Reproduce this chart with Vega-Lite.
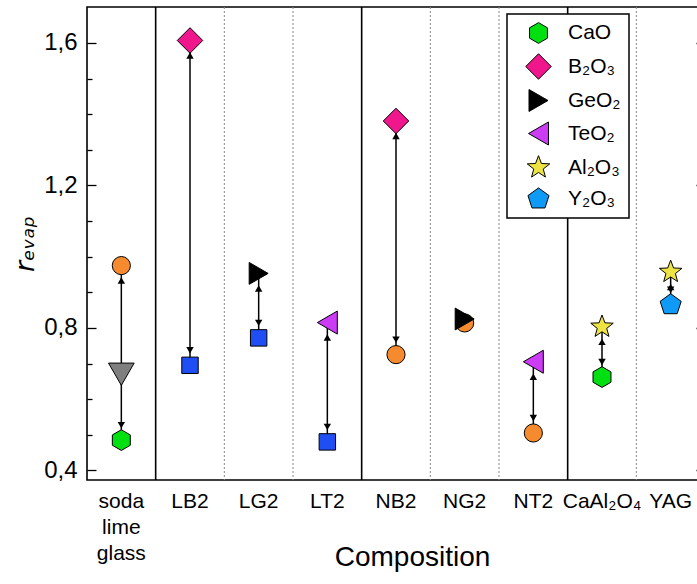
{
  "$schema": "https://vega.github.io/schema/vega-lite/v6.json",
  "width": 618,
  "height": 473,
  "autosize": {"type": "none"},
  "padding": {"left": 87, "top": 7, "right": 0, "bottom": 104},
  "background": "white",
  "config": {
    "view": {"stroke": "black", "strokeWidth": 1.6},
    "font": "Liberation Sans",
    "axis": {"labelColor": "black", "titleColor": "black", "labelFont": "Liberation Sans", "titleFont": "Liberation Sans", "tickColor": "black", "grid": false, "domain": false},
    "legend": {"title": null, "orient": "none", "legendX": 420, "legendY": 7, "labelFontSize": 21, "labelFont": "Liberation Sans", "labelColor": "black", "fillColor": "white", "strokeColor": "black", "padding": 8, "rowPadding": 5, "labelOffset": 16, "symbolOffset": 10, "symbolStrokeColor": "black", "symbolStrokeWidth": 1, "symbolOpacity": 1}
  },
  "datasets": {
    "points": [
      {"comp": "soda lime glass", "species": "orange", "value": 0.975},
      {"comp": "soda lime glass", "species": "grey", "value": 0.67},
      {"comp": "soda lime glass", "species": "CaO", "value": 0.485},
      {"comp": "LB2", "species": "B₂O₃", "value": 1.607},
      {"comp": "LB2", "species": "blue", "value": 0.695},
      {"comp": "LG2", "species": "GeO₂", "value": 0.953},
      {"comp": "LG2", "species": "blue", "value": 0.772},
      {"comp": "LT2", "species": "TeO₂", "value": 0.815},
      {"comp": "LT2", "species": "blue", "value": 0.48},
      {"comp": "NB2", "species": "B₂O₃", "value": 1.381},
      {"comp": "NB2", "species": "orange", "value": 0.725},
      {"comp": "NG2", "species": "orange", "value": 0.814},
      {"comp": "NG2", "species": "GeO₂", "value": 0.825},
      {"comp": "NT2", "species": "TeO₂", "value": 0.705},
      {"comp": "NT2", "species": "orange", "value": 0.505},
      {"comp": "CaAl₂O₄", "species": "Al₂O₃", "value": 0.803},
      {"comp": "CaAl₂O₄", "species": "CaO", "value": 0.662},
      {"comp": "YAG", "species": "Al₂O₃", "value": 0.957},
      {"comp": "YAG", "species": "Y₂O₃", "value": 0.865}
    ],
    "arrows": [
      {"comp": "soda lime glass", "top": 0.975, "bottom": 0.485},
      {"comp": "LB2", "top": 1.607, "bottom": 0.695},
      {"comp": "LG2", "top": 0.953, "bottom": 0.772},
      {"comp": "LT2", "top": 0.815, "bottom": 0.48},
      {"comp": "NB2", "top": 1.381, "bottom": 0.725},
      {"comp": "NT2", "top": 0.705, "bottom": 0.505},
      {"comp": "CaAl₂O₄", "top": 0.803, "bottom": 0.662},
      {"comp": "YAG", "top": 0.957, "bottom": 0.865}
    ],
    "separators": [
      {"comp": "LB2", "kind": "group"},
      {"comp": "LG2", "kind": "sample"},
      {"comp": "LT2", "kind": "sample"},
      {"comp": "NB2", "kind": "group"},
      {"comp": "NG2", "kind": "sample"},
      {"comp": "NT2", "kind": "sample"},
      {"comp": "CaAl₂O₄", "kind": "group"},
      {"comp": "YAG", "kind": "sample"}
    ]
  },
  "resolve": {"axis": {"y": "independent", "x": "independent"}},
  "layer": [
    {
      "data": {"name": "separators"},
      "transform": [{"filter": "datum.kind == 'sample'"}],
      "mark": {"type": "rule", "color": "#8a8a8a", "strokeWidth": 1, "strokeDash": [2, 2]},
      "encoding": {
        "x": {"field": "comp", "type": "nominal", "bandPosition": 0, "scale": {"domain": ["soda lime glass", "LB2", "LG2", "LT2", "NB2", "NG2", "NT2", "CaAl₂O₄", "YAG"], "paddingInner": 0, "paddingOuter": 0}, "axis": null}
      }
    },
    {
      "data": {"name": "separators"},
      "transform": [{"filter": "datum.kind == 'group'"}],
      "mark": {"type": "rule", "color": "black", "strokeWidth": 1.6},
      "encoding": {
        "x": {"field": "comp", "type": "nominal", "bandPosition": 0, "scale": {"domain": ["soda lime glass", "LB2", "LG2", "LT2", "NB2", "NG2", "NT2", "CaAl₂O₄", "YAG"], "paddingInner": 0, "paddingOuter": 0}, "axis": null}
      }
    },
    {
      "data": {"name": "arrows"},
      "mark": {"type": "rule", "color": "black", "strokeWidth": 1.5},
      "encoding": {
        "x": {"field": "comp", "type": "nominal", "scale": {"domain": ["soda lime glass", "LB2", "LG2", "LT2", "NB2", "NG2", "NT2", "CaAl₂O₄", "YAG"], "paddingInner": 0, "paddingOuter": 0}, "axis": null},
        "y": {"field": "top", "type": "quantitative", "scale": {"domain": [0.373, 1.701], "nice": false, "zero": false},
          "axis": {"orient": "left", "values": [0.5, 0.6, 0.7, 0.9, 1.0, 1.1, 1.3, 1.4, 1.5], "tickSize": -5, "tickWidth": 1.3, "labels": false, "title": null, "domain": false}},
        "y2": {"field": "bottom"}
      }
    },
    {
      "data": {"name": "arrows"},
      "mark": {"type": "point", "shape": "triangle-up", "filled": true, "color": "black", "opacity": 1, "size": 55, "yOffset": 15},
      "encoding": {
        "x": {"field": "comp", "type": "nominal", "scale": {"domain": ["soda lime glass", "LB2", "LG2", "LT2", "NB2", "NG2", "NT2", "CaAl₂O₄", "YAG"], "paddingInner": 0, "paddingOuter": 0}, "axis": null},
        "y": {"field": "top", "type": "quantitative", "scale": {"domain": [0.373, 1.701], "nice": false, "zero": false},
          "axis": {"orient": "right", "values": [0.4, 0.8, 1.2, 1.6], "tickSize": -9, "tickWidth": 1.3, "labels": false, "title": null, "domain": false}}
      }
    },
    {
      "data": {"name": "arrows"},
      "mark": {"type": "point", "shape": "triangle-down", "filled": true, "color": "black", "opacity": 1, "size": 55, "yOffset": -15},
      "encoding": {
        "x": {"field": "comp", "type": "nominal", "scale": {"domain": ["soda lime glass", "LB2", "LG2", "LT2", "NB2", "NG2", "NT2", "CaAl₂O₄", "YAG"], "paddingInner": 0, "paddingOuter": 0}, "axis": null},
        "y": {"field": "bottom", "type": "quantitative", "scale": {"domain": [0.373, 1.701], "nice": false, "zero": false}, "axis": null}
      }
    },
    {
      "data": {"name": "points"},
      "mark": {"type": "point", "filled": true, "opacity": 1, "stroke": "black", "strokeWidth": 1},
      "encoding": {
        "x": {"field": "comp", "type": "nominal", "scale": {"domain": ["soda lime glass", "LB2", "LG2", "LT2", "NB2", "NG2", "NT2", "CaAl₂O₄", "YAG"], "paddingInner": 0, "paddingOuter": 0},
          "axis": {"title": "Composition", "titleFontSize": 28, "titleFontWeight": "normal", "titleY": 63, "titleX": 325, "titleAlign": "center", "ticks": false, "domain": false, "labelAngle": 0, "labelFontSize": 21, "labelPadding": 10, "labelLineHeight": 26, "labelExpr": "split(datum.label, ' ')"}},
        "y": {"field": "value", "type": "quantitative", "scale": {"domain": [0.373, 1.701], "nice": false, "zero": false},
          "axis": {"orient": "left", "values": [0.4, 0.8, 1.2, 1.6], "tickSize": -9, "tickWidth": 1.3, "labelPadding": 19, "labelFontSize": 24, "labelExpr": "replace(format(datum.value, '.1f'), '.', ',')", "title": "rₑᵥₐₚ", "titleFont": "DejaVu Sans", "titleFontStyle": "italic", "titleFontWeight": "normal", "titleFontSize": 27, "titleX": -48, "domain": false}},
        "color": {"field": "species", "type": "nominal",
          "scale": {"domain": ["CaO", "B₂O₃", "GeO₂", "TeO₂", "Al₂O₃", "Y₂O₃", "orange", "blue", "grey"],
            "range": ["#00E010", "#F0168C", "#000000", "#CC3CF5", "#EDE343", "#0F9AF5", "#F68A2E", "#1F4EF5", "#7F7F7F"]},
          "legend": {"values": ["CaO", "B₂O₃", "GeO₂", "TeO₂", "Al₂O₃", "Y₂O₃"], "encode": {"legend": {"update": {"strokeWidth": {"value": 1.5}}}}}},
        "shape": {"field": "species", "type": "nominal",
          "scale": {"domain": ["CaO", "B₂O₃", "GeO₂", "TeO₂", "Al₂O₃", "Y₂O₃", "orange", "blue", "grey"],
            "range": ["M0,-1L0.866,-0.5L0.866,0.5L0,1L-0.866,0.5L-0.866,-0.5Z", "diamond", "triangle-right", "triangle-left", "M0,-1L0.247,-0.34L0.951,-0.309L0.399,0.13L0.588,0.809L0,0.42L-0.588,0.809L-0.399,0.13L-0.951,-0.309L-0.247,-0.34Z", "M0,-1L0.951,-0.309L0.588,0.809L-0.588,0.809L-0.951,-0.309Z", "circle", "square", "triangle-down"]},
          "legend": {"values": ["CaO", "B₂O₃", "GeO₂", "TeO₂", "Al₂O₃", "Y₂O₃"]}},
        "size": {"field": "species", "type": "nominal",
          "scale": {"type": "ordinal", "domain": ["CaO", "B₂O₃", "GeO₂", "TeO₂", "Al₂O₃", "Y₂O₃", "orange", "blue", "grey"],
            "range": [430, 650, 480, 530, 560, 490, 330, 270, 660]},
          "legend": {"values": ["CaO", "B₂O₃", "GeO₂", "TeO₂", "Al₂O₃", "Y₂O₃"]}}
      }
    }
  ]
}
